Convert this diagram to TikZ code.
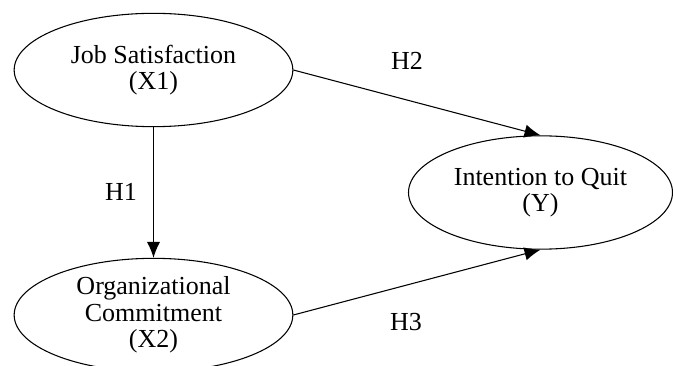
\documentclass[tikz,border=0pt]{standalone}
\usepackage{fontspec}
\setmainfont{Liberation Serif}
\usetikzlibrary{arrows.meta,shapes.geometric,positioning}

\begin{document}
\begin{tikzpicture}[x=0.75pt,y=-0.75pt,
    construct/.style={ellipse, draw, line width=0.8pt, inner sep=0pt,
      align=center, font=\fontsize{19.5}{20}\selectfont},
    hyp/.style={font=\fontsize{19.5}{20}\selectfont},
    >={Latex[length=12pt,width=10pt]}]
    \useasboundingbox (0,0) rectangle (673,366);
    \node[construct, minimum width=209pt, minimum height=85pt] (js) at (153.5,70) {Job Satisfaction\\(X1)};
    \node[construct, minimum width=209pt, minimum height=85pt] (oc) at (153.5,315) {Organizational\\Commitment\\(X2)};
    \node[construct, minimum width=198pt, minimum height=85pt] (iq) at (540.5,192.5) {Intention to Quit\\(Y)};
    \node[hyp] (h1) at (121,192) {H1};
    \node[hyp] (h2) at (407,61) {H2};
    \node[hyp] (h3) at (406,322) {H3};
    \path[->, line width=0.8pt]
    (js) edge (oc)
    (js.east) edge (iq.north)
    (oc.east) edge (iq.south)
    ;

  \end{tikzpicture}
\end{document}
